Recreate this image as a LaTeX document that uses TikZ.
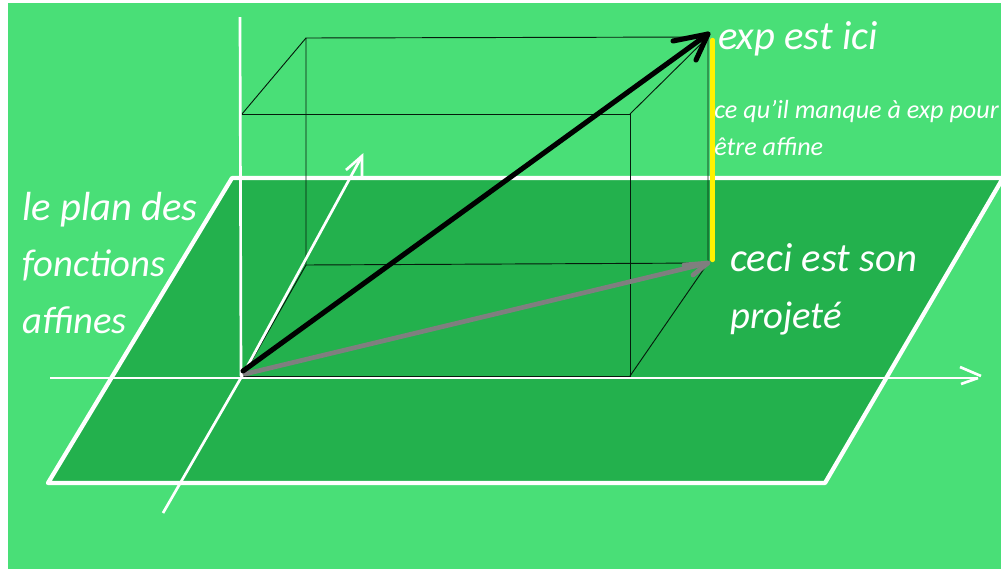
\documentclass[tikz,border=0pt]{standalone}
\usepackage{fontspec}
\setmainfont{Carlito}
\definecolor{bglight}{HTML}{49DF77}
\definecolor{plandark}{HTML}{23B14D}
\definecolor{vecgrey}{HTML}{7F7F7F}
\definecolor{gapyellow}{HTML}{FFF200}
\tikzset{
  planline/.style={draw=white,line width=3.2pt},
  axisline/.style={draw=white,line width=2pt},
  boxline/.style={draw=black!85!plandark,line width=0.7pt},
  vecblack/.style={draw=black,line width=3.8pt,line cap=round},
  vecgr/.style={draw=vecgrey,line width=3.5pt,line cap=round},
  biglabel/.style={text=white,anchor=base west,inner sep=0pt,font=\itshape\fontsize{30.5}{30.5}\selectfont},
  midlabel/.style={text=white,anchor=base west,inner sep=0pt,font=\itshape\fontsize{29}{29}\selectfont},
  smalllabel/.style={text=white,anchor=base west,inner sep=0pt,font=\itshape\fontsize{19.6}{19.6}\selectfont},
}
\begin{document}
\begin{tikzpicture}[x=0.75pt,y=-0.75pt]
\useasboundingbox (0,0) rectangle (1001,569);
\fill[white] (0,0) rectangle (1001,569);
\fill[bglight] (8,3) rectangle (1001,569);
% plane
\coordinate (pTL) at (232,178);
\coordinate (pTR) at (1001,178);
\coordinate (pRE) at (1003,178);
\coordinate (pBR) at (825,483);
\coordinate (pBL) at (48,483);
\fill[plandark] (pTL) -- (pTR) -- (pRE) -- (pBR) -- (pBL) -- cycle;
\draw[planline,line join=round] (pTR) -- (pTL) -- (pBL) -- (pBR) -- (pRE);
% box
\coordinate (fTL) at (242,114);
\coordinate (fTR) at (630,114);
\coordinate (fBR) at (630,376);
\coordinate (fBL) at (243,376);
\coordinate (bTL) at (306,38);
\coordinate (bTR) at (708,37);
\coordinate (bBR) at (708,263);
\coordinate (bBL) at (306,265);
\draw[boxline] (fTL) -- (fTR) -- (fBR) -- (fBL);
\draw[boxline] (bBL) -- (bTL) -- (bTR) -- (bBR);
\draw[boxline] (bBL) -- (bBR);
\draw[boxline] (fTL) -- (bTL);
\draw[boxline] (fTR) -- (bTR);
\draw[boxline] (fBR) -- (bBR);
\draw[boxline] (fBL) -- (bBL);
% axes
\coordinate (zT) at (240,17);
\coordinate (zB) at (241,376);
\draw[axisline] (zT) -- (zB);
\coordinate (xL) at (50,378);
\coordinate (xR) at (978,378);
\coordinate (xa) at (960,367);
\coordinate (xb) at (981,376);
\coordinate (xc) at (961,384);
\draw[axisline] (xL) -- (xR);
\draw[axisline] (xa) -- (xb);
\draw[axisline] (xc) -- (xR);
\coordinate (yL) at (163,513);
\coordinate (yM) at (242,376);
\coordinate (yR) at (362,156);
\coordinate (ya) at (346,170);
\coordinate (yb) at (362,176);
\draw[axisline] (yL) -- (yM) -- (yR);
\draw[axisline] (ya) -- (yR) -- (yb);
% yellow
\coordinate (eTop) at (712.5,40);
\coordinate (eBot) at (712.5,260);
\draw[draw=gapyellow,line width=3.3pt,line cap=round] (eTop) -- (eBot);
% vectors
\coordinate (eTip) at (708,34);
\coordinate (ea) at (673,41);
\coordinate (eb) at (696,60);
\coordinate (pTip) at (708,263);
\coordinate (pa) at (684,265);
\coordinate (pb) at (693,275);
\coordinate (start) at (243,371);
\coordinate (pstart) at (245,374);
\draw[vecgr] (pstart) -- (pTip);
\draw[vecgr,line join=round] (pa) -- (pTip) -- (pb);
\draw[vecblack] (start) -- (eTip);
\draw[vecblack,line join=round] (ea) -- (eTip) -- (eb);
% labels
\node[biglabel] (l1) at (22,220) {le plan des};
\node[midlabel] (l2) at (22,276) {fonctions};
\node[midlabel] (l3) at (22,333) {affines};
\node[biglabel] (l4) at (718,49) {exp est ici};
\node[biglabel] (l5) at (730,271) {ceci est son};
\node[midlabel] (l6) at (730,328) {projeté};
\node[smalllabel] (l7) at (714,118) {ce qu'il manque à exp pour};
\node[smalllabel] (l8) at (714,155) {être affine};
\end{tikzpicture}
\end{document}
